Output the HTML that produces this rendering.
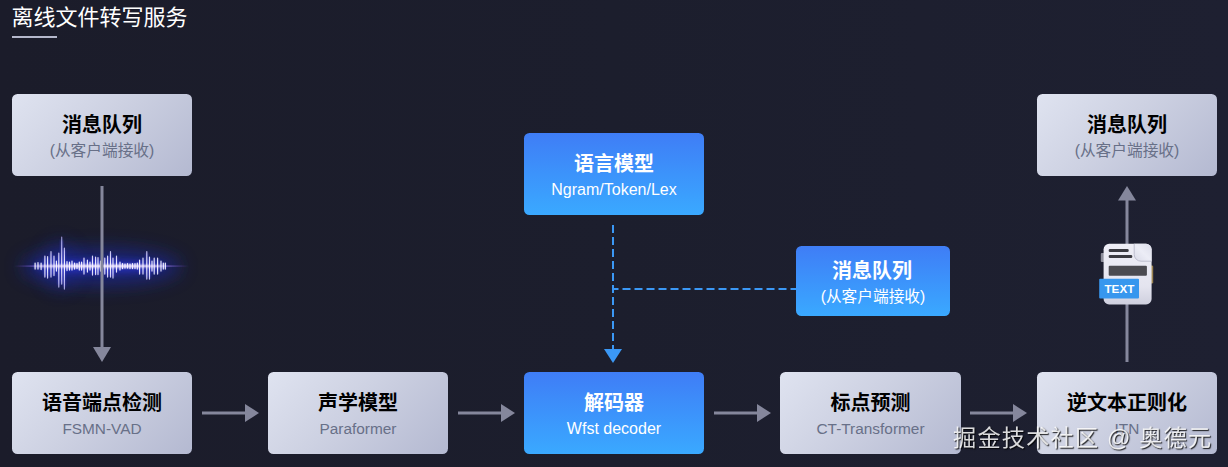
<!DOCTYPE html>
<html lang="zh-CN">
<head>
<meta charset="utf-8">
<title>离线文件转写服务</title>
<style>
*{margin:0;padding:0;box-sizing:border-box}
html,body{width:1228px;height:467px;overflow:hidden;background:#1c1e2c}
body{position:relative;font-family:"Liberation Sans","Noto Sans CJK SC",sans-serif}
#stage{position:absolute;left:0;top:0;width:1228px;height:467px;overflow:hidden;
  background:linear-gradient(90deg,#1b1c2a 0%,#1c1e2d 50%,#1e2031 100%)}
h1{position:absolute;left:11.5px;top:1px;height:34px;line-height:33px;font-size:22px;font-weight:400;color:#fff;white-space:nowrap;letter-spacing:0}
.rule{position:absolute;left:12px;top:36px;width:45px;height:2px;background:#b5b8cc}
.box{position:absolute;width:180px;height:82px;border-radius:5.5px;text-align:center;white-space:nowrap}
.box .t{position:absolute;left:0;right:0;top:17px;height:28px;line-height:28px;font-size:20px;font-weight:700}
.box .s{position:absolute;left:0;right:0;top:46px;height:22px;line-height:22px;font-size:15.4px;font-weight:400}
.g{background:linear-gradient(135deg,#dfe3f0 0%,#cdd1e2 45%,#b4b9d1 100%)}
.g .t{color:#000}
.g .s{color:#687088}
.cj .s{font-size:15.7px}
.b{background:linear-gradient(180deg,#3f7df6 0%,#3c93fb 50%,#3aa9ff 100%)}
.b .t{color:#fff}
.b .s{color:#fff}
.sm{width:154px;height:70px}
.sm .t{top:11px;left:-1px;right:1px}
.sm .s{top:40px}
svg{position:absolute;left:0;top:0}
.wm{position:absolute;left:952.5px;top:421px;height:34px;line-height:34px;font-size:23.2px;letter-spacing:1.2px;color:rgba(255,255,255,.85);
  text-shadow:1px 1px 1.2px rgba(0,0,0,.9);white-space:nowrap;will-change:transform;transform:translateZ(0)}
</style>
</head>
<body>
<div id="stage">
  <h1>离线文件转写服务</h1>
  <div class="rule"></div>

  <svg width="1228" height="467" viewBox="0 0 1228 467">
    <defs>
      <filter id="blur6" x="-50%" y="-200%" width="200%" height="500%"><feGaussianBlur stdDeviation="9"/></filter>
      <filter id="blur3" x="-50%" y="-200%" width="200%" height="500%"><feGaussianBlur stdDeviation="3.5"/></filter>
      <filter id="blur0" x="-50%" y="-200%" width="200%" height="500%"><feGaussianBlur stdDeviation="0.5"/></filter>
      <filter id="blur2" x="-50%" y="-200%" width="200%" height="500%"><feGaussianBlur stdDeviation="1.3"/></filter>
      <filter id="blur1" x="-50%" y="-200%" width="200%" height="500%"><feGaussianBlur stdDeviation="0.8"/></filter>
      <linearGradient id="wl" x1="0" x2="1" y1="0" y2="0"><stop offset="0" stop-color="#7a4cff" stop-opacity="0"/><stop offset=".12" stop-color="#b48cff" stop-opacity=".7"/><stop offset=".5" stop-color="#fff"/><stop offset=".88" stop-color="#b48cff" stop-opacity=".7"/><stop offset="1" stop-color="#7a4cff" stop-opacity="0"/></linearGradient>
      <linearGradient id="wv" gradientUnits="userSpaceOnUse" x1="0" x2="0" y1="236" y2="296"><stop offset="0" stop-color="#b7b4ff" stop-opacity=".75"/><stop offset=".3" stop-color="#dcd8ff" stop-opacity=".9"/><stop offset=".5" stop-color="#fff"/><stop offset=".7" stop-color="#dcd8ff" stop-opacity=".9"/><stop offset="1" stop-color="#b7b4ff" stop-opacity=".75"/></linearGradient>
      <linearGradient id="docg" x1="0" x2="0" y1="0" y2="1"><stop offset="0" stop-color="#eeeef6"/><stop offset=".7" stop-color="#e4e4ef"/><stop offset="1" stop-color="#cfd0de"/></linearGradient>
      <linearGradient id="foldg" x1="0" x2="1" y1="1" y2="0"><stop offset="0" stop-color="#d9dae8"/><stop offset=".5" stop-color="#ecedf6"/><stop offset="1" stop-color="#dcddea"/></linearGradient>
    </defs>
    <!-- waveform -->
    <g id="wave">
      <ellipse cx="101" cy="267" rx="80" ry="19" fill="#1a29b0" opacity=".55" filter="url(#blur6)"/>
      <ellipse cx="60" cy="266" rx="18" ry="24" fill="#1a29b0" opacity=".35" filter="url(#blur6)"/>
      <ellipse cx="100" cy="266.5" rx="64" ry="6" fill="#2b36e0" opacity=".6" filter="url(#blur3)"/>
      <rect x="14" y="265.4" width="175" height="1.4" fill="url(#wl)" opacity=".7"/>
      <path d="M35.1 263.4V268.8M38.0 263.0V268.8M41.1 263.4V269.2M44.9 257.1V276.0M47.6 257.6V276.9M51.0 253.1V276.0M54.0 257.1V274.7M56.4 261.6V270.6M58.8 254.4V285.0M61.7 240.0V282.3M64.4 249.9V286.8M67.0 262.1V270.2M69.5 262.5V269.7M72.0 261.6V269.7M74.6 263.4V268.8M77.0 263.9V268.4M79.3 262.5V269.7M81.6 262.5V269.7M84.0 258.9V273.3M87.4 260.7V271.5M90.0 262.5V269.7M92.5 257.1V274.2M95.6 258.0V273.8M98.0 258.5V273.8M100.5 261.6V270.6M104.8 258.9V273.3M107.6 257.1V276.0M110.5 253.1V276.0M113.0 258.9V276.9M116.5 257.1V271.5M120.0 262.5V269.7M122.5 263.9V268.4M125.0 264.3V267.9M127.5 263.9V267.9M130.0 264.3V268.4M132.5 263.9V268.4M135.0 263.9V268.4M137.3 263.4V268.8M139.6 260.7V273.3M143.0 258.9V273.3M146.8 253.1V277.8M149.5 258.0V277.8M152.0 261.6V270.6M154.2 258.9V273.3M157.6 258.9V273.3M161.0 261.6V270.6M163.3 263.4V268.8M165.3 263.4V268.8" stroke="#4a4cf0" stroke-width="1.8" fill="none" opacity=".55" filter="url(#blur2)"/>
      <path d="M35.1 263.1V269.1M38.0 262.6V269.1M41.1 263.1V269.6M44.9 256.1V277.1M47.6 256.6V278.1M51.0 251.6V277.1M54.0 256.1V275.6M56.4 261.1V271.1M58.8 253.1V287.1M61.7 237.1V284.1M64.4 248.1V289.1M67.0 261.6V270.6M69.5 262.1V270.1M72.0 261.1V270.1M74.6 263.1V269.1M77.0 263.6V268.6M79.3 262.1V270.1M81.6 262.1V270.1M84.0 258.1V274.1M87.4 260.1V272.1M90.0 262.1V270.1M92.5 256.1V275.1M95.6 257.1V274.6M98.0 257.6V274.6M100.5 261.1V271.1M104.8 258.1V274.1M107.6 256.1V277.1M110.5 251.6V277.1M113.0 258.1V278.1M116.5 256.1V272.1M120.0 262.1V270.1M122.5 263.6V268.6M125.0 264.1V268.1M127.5 263.6V268.1M130.0 264.1V268.6M132.5 263.6V268.6M135.0 263.6V268.6M137.3 263.1V269.1M139.6 260.1V274.1M143.0 258.1V274.1M146.8 251.6V279.1M149.5 257.1V279.1M152.0 261.1V271.1M154.2 258.1V274.1M157.6 258.1V274.1M161.0 261.1V271.1M163.3 263.1V269.1M165.3 263.1V269.1" stroke="url(#wv)" stroke-width="1.15" stroke-linecap="round" fill="none" filter="url(#blur0)"/>
      <ellipse cx="100" cy="266.1" rx="66" ry="1.7" fill="#f6ecff" opacity=".9" filter="url(#blur1)"/>
    </g>
        <!-- grey arrows -->
    <g fill="#85879c" stroke="none">
      <rect x="100.5" y="186" width="3" height="162"/>
      <polygon points="93,347 111,347 102,362"/>
      <rect x="1125.5" y="200" width="3" height="162"/>
      <polygon points="1118,200.5 1136,200.5 1127,186"/>
      <rect x="202" y="411.5" width="44" height="3"/>
      <polygon points="245,404 245,422 259,413"/>
      <rect x="458" y="411.5" width="44" height="3"/>
      <polygon points="501,404 501,422 515,413"/>
      <rect x="714" y="411.5" width="44" height="3"/>
      <polygon points="757,404 757,422 771,413"/>
      <rect x="970" y="411.5" width="44" height="3"/>
      <polygon points="1013,404 1013,422 1027,413"/>
    </g>
    <!-- blue dashed -->
    <g stroke="#3b98f5" stroke-width="2" fill="none" stroke-dasharray="8 4">
      <line x1="613" y1="225" x2="613" y2="350"/>
      <line x1="613" y1="289" x2="796" y2="289" stroke-dashoffset="2.5"/>
    </g>
    <polygon points="604,349 622,349 613,363" fill="#3b98f5"/>
    <!-- text document icon -->
    <g id="doc">
      <rect x="1100.8" y="253" width="4" height="9" rx="1" fill="#8d8e9b"/>
      <rect x="1150" y="265.5" width="3.2" height="18" rx="1.2" fill="#9c8450"/>
      <rect x="1103.6" y="243.8" width="48" height="60.6" rx="5.5" fill="url(#docg)"/>
      <path d="M1134.2 243.8 H1146 a5.6 5.6 0 0 1 5.6 5.6 V261.2 H1141 a6.8 6.8 0 0 1 -6.8 -6.8 Z" fill="url(#foldg)"/>
      <path d="M1134.2 243.8 V254.4 a6.8 6.8 0 0 0 6.8 6.8 H1151.6" fill="none" stroke="#b9bacb" stroke-width="1" opacity=".9"/>
      <rect x="1108.7" y="249" width="20" height="3" rx="1.3" fill="#3a3a41"/>
      <rect x="1108.7" y="255" width="23.6" height="3" rx="1.3" fill="#3a3a41"/>
      <rect x="1108.7" y="265.8" width="38.2" height="10" rx="1" fill="#4a4a50"/>
      <rect x="1099.2" y="278.8" width="39.8" height="19.8" rx="1" fill="#3797ee"/>
      <text x="1119.4" y="293.2" text-anchor="middle" font-family="'Liberation Sans','Noto Sans CJK SC',sans-serif" font-size="11.7" font-weight="700" fill="#fff">TEXT</text>
    </g>
  </svg>

  <div class="box g cj" style="left:12px;top:94px"><div class="t">消息队列</div><div class="s">(从客户端接收)</div></div>
  <div class="box g cj" style="left:1037px;top:94px"><div class="t">消息队列</div><div class="s">(从客户端接收)</div></div>
  <div class="box b" style="left:524px;top:133px"><div class="t">语言模型</div><div class="s" style="font-size:16px">Ngram/Token/Lex</div></div>
  <div class="box b sm cj" style="left:796px;top:246px"><div class="t">消息队列</div><div class="s">(从客户端接收)</div></div>

  <div class="box g" style="left:12px;top:372px"><div class="t">语音端点检测</div><div class="s">FSMN-VAD</div></div>
  <div class="box g" style="left:268px;top:372px"><div class="t">声学模型</div><div class="s">Paraformer</div></div>
  <div class="box b" style="left:524px;top:372px"><div class="t">解码器</div><div class="s" style="font-size:16px">Wfst decoder</div></div>
  <div class="box g" style="left:780px;top:372px;width:181px"><div class="t">标点预测</div><div class="s">CT-Transformer</div></div>
  <div class="box g" style="left:1037px;top:372px"><div class="t">逆文本正则化</div><div class="s">ITN</div></div>

  <div class="wm">掘金技术社区 @ 奥德元</div>
</div>
</body>
</html>
